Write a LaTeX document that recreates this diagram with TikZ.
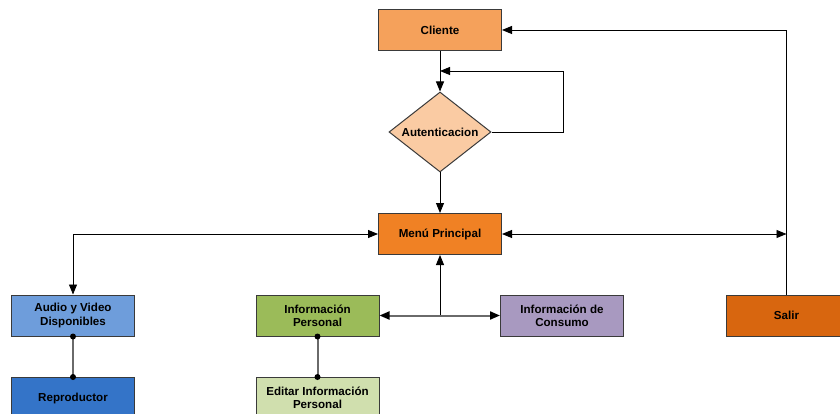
\documentclass[tikz,border=0pt]{standalone}
\usepackage{fontspec}
\setmainfont{Liberation Sans}
\usetikzlibrary{arrows.meta,shapes.geometric,positioning}
\definecolor{cCliente}{HTML}{F5A15B}
\definecolor{cAuth}{HTML}{FACBA3}
\definecolor{cMenu}{HTML}{F08124}
\definecolor{cAudio}{HTML}{6E9DDB}
\definecolor{cRepro}{HTML}{3474C8}
\definecolor{cInfo}{HTML}{9BBB59}
\definecolor{cEdit}{HTML}{D0DFAE}
\definecolor{cConsumo}{HTML}{A899C0}
\definecolor{cSalir}{HTML}{D8660F}
\definecolor{cBorder}{HTML}{3A3A3A}
\definecolor{cLink}{HTML}{6A6A6A}
\tikzset{
  labelfont/.style={font=\bfseries\fontsize{11.6}{13.2}\selectfont},
  box/.style={draw=cBorder, line width=1pt, minimum width=123pt, minimum height=41pt,
    inner sep=1pt, align=center, labelfont},
  flow/.style={draw=black, line width=0.9pt, -{Triangle[length=10pt,width=8pt]}},
  biflow/.style={draw=black, line width=0.9pt, {Triangle[length=10pt,width=8pt]}-{Triangle[length=10pt,width=8pt]}},
  grayflow/.style={draw=cLink, line width=2pt, {Triangle[length=10pt,width=8pt,black]}-{Triangle[length=10pt,width=8pt,black]}},
  dotlink/.style={draw=cLink, line width=2pt},
  dot/.style={fill=black},
}
\begin{document}
\begin{tikzpicture}[x=1pt,y=-1pt]
  \clip (0,0) rectangle (840,414);
  \useasboundingbox (0,0) rectangle (840,414);
  \fill[white] (0,0) rectangle (840,414);

  % nodes
  \node[box, fill=cCliente] (cliente) at (440,30) {Cliente};
  \node[draw=cBorder, line width=1pt, fill=cAuth, diamond, aspect=1.27, minimum width=102pt,
        minimum height=80pt, inner sep=0pt, labelfont] (auth) at (440,132) {Autenticacion};
  \node[box, fill=cMenu] (menu) at (440,234) {Menú Principal};
  \node[box, fill=cAudio] (audio) at (73,315.5) {Audio y Video\\Disponibles};
  \node[box, fill=cRepro, anchor=north] (repro) at (73,377) {\raisebox{-7pt}{Reproductor}};
  \node[box, fill=cInfo] (info) at (317.5,315.5) {Información\\Personal};
  \node[box, fill=cEdit, anchor=north] (edit) at (317.5,377) {Editar Información\\Personal};
  \node[box, fill=cConsumo] (consumo) at (562,315.5) {Información de\\Consumo};
  \node[box, fill=cSalir, minimum width=121pt] (salir) at (786.5,315.5) {Salir};

  % helper points
  \coordinate (loopin) at (440,71);
  \coordinate (leftturn) at (73,234);
  \coordinate (rightend) at (786.5,234);
  \coordinate (topturn) at (786.5,30);
  \coordinate (junction) at (440,316);

  % connectors
  \draw[flow] (cliente.south) -- (auth.north);
  \draw[flow] (auth.east) -- (563,132) -- (563,71) -- (loopin);
  \draw[flow] (auth.south) -- (menu.north);
  \draw[biflow] (menu.west) -- (leftturn) -- (audio.north);
  \draw[biflow] (menu.east) -- (rightend);
  \draw[flow] (salir.north) -- (topturn) -- (cliente.east);
  \draw[flow] (junction) -- (menu.south);
  \draw[grayflow] (info.east) -- (consumo.west);
  \draw[dotlink] (audio.south) -- (repro.north);
  \draw[dotlink] (info.south) -- (edit.north);
  \foreach \n in {audio.south, repro.north, info.south, edit.north}
    \fill[dot] (\n) circle (3pt);
\end{tikzpicture}
\end{document}
